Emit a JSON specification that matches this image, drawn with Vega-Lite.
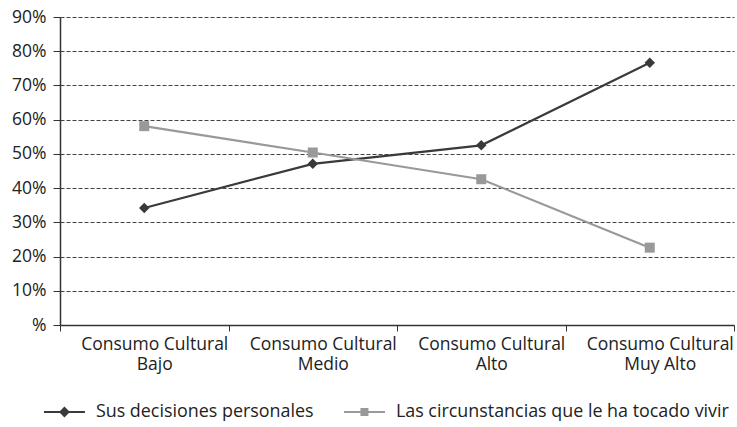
{
  "$schema": "https://vega.github.io/schema/vega-lite/v6.json",
  "autosize": {"type": "none"},
  "width": 674,
  "height": 308,
  "padding": {"left": 60, "top": 17, "right": 3, "bottom": 102},
  "background": "white",
  "config": {
    "view": {"stroke": null},
    "font": "Open Sans",
    "axis": {"labelFont": "Open Sans", "labelColor": "#222222", "labelFontSize": 17.5},
    "legend": {"labelFont": "Open Sans", "labelColor": "#222222", "labelFontSize": 17.9, "labelLimit": 0}
  },
  "data": {
    "values": [
      {"nivel": "Consumo Cultural Bajo", "serie": "Sus decisiones personales", "pct": 34.2},
      {"nivel": "Consumo Cultural Medio", "serie": "Sus decisiones personales", "pct": 47.1},
      {"nivel": "Consumo Cultural Alto", "serie": "Sus decisiones personales", "pct": 52.5},
      {"nivel": "Consumo Cultural Muy Alto", "serie": "Sus decisiones personales", "pct": 76.6},
      {"nivel": "Consumo Cultural Bajo", "serie": "Las circunstancias que le ha tocado vivir", "pct": 58.1},
      {"nivel": "Consumo Cultural Medio", "serie": "Las circunstancias que le ha tocado vivir", "pct": 50.4},
      {"nivel": "Consumo Cultural Alto", "serie": "Las circunstancias que le ha tocado vivir", "pct": 42.6},
      {"nivel": "Consumo Cultural Muy Alto", "serie": "Las circunstancias que le ha tocado vivir", "pct": 22.6}
    ]
  },
  "encoding": {
    "x": {
      "field": "nivel",
      "type": "nominal",
      "sort": null,
      "scale": {"type": "band", "paddingInner": 0, "paddingOuter": 0},
      "axis": {
        "title": null,
        "labelAngle": 0,
        "tickBand": "extent",
        "tickSize": 6,
        "tickColor": "#333333",
        "domainColor": "#333333",
        "domainWidth": 1.5,
        "labelPadding": 4,
        "labelOffset": 10,
        "labelLineHeight": 20,
        "labelLimit": 0,
        "labelExpr": "datum.extra || !datum.label ? '' : ['Consumo Cultural', replace(datum.label, 'Consumo Cultural ', '')]"
      }
    },
    "y": {
      "field": "pct",
      "type": "quantitative",
      "scale": {"domain": [0, 90], "nice": false},
      "axis": {
        "title": null,
        "values": [0, 10, 20, 30, 40, 50, 60, 70, 80, 90],
        "labelExpr": "datum.value == 0 ? '%' : datum.value + '%'",
        "tickSize": 7,
        "tickColor": "#333333",
        "domainColor": "#333333",
        "domainWidth": 1.5,
        "labelPadding": 7,
        "grid": true,
        "gridColor": "#444444",
        "gridDash": [4, 2],
        "gridWidth": 1
      }
    }
  },
  "layer": [
    {
      "transform": [{"filter": "datum.serie == 'Sus decisiones personales'"}],
      "mark": {"type": "line", "strokeWidth": 2.2, "color": "#3a3a3a"},
      "encoding": {}
    },
    {
      "transform": [{"filter": "datum.serie == 'Las circunstancias que le ha tocado vivir'"}],
      "mark": {"type": "line", "strokeWidth": 2.2, "color": "#999999"},
      "encoding": {}
    },
    {
      "transform": [{"filter": "datum.serie == 'Sus decisiones personales'"}],
      "mark": {"type": "point", "shape": "diamond", "filled": true, "opacity": 1, "size": 110, "color": "#3a3a3a"}
    },
    {
      "transform": [{"filter": "datum.serie == 'Las circunstancias que le ha tocado vivir'"}],
      "mark": {"type": "point", "shape": "square", "filled": true, "opacity": 1, "size": 100, "color": "#999999"}
    },
    {
      "mark": {"type": "point", "filled": true, "opacity": 0},
      "encoding": {
        "color": {
          "field": "serie",
          "type": "nominal",
          "scale": {
            "domain": ["Sus decisiones personales", "Las circunstancias que le ha tocado vivir"],
            "range": ["#3a3a3a", "#999999"]
          },
          "legend": {
            "title": null,
            "orient": "none",
            "direction": "horizontal",
            "legendX": -20,
            "legendY": 386,
            "columns": 2,
            "columnPadding": 25,
            "symbolSize": 100,
            "labelOffset": 38,
            "encode": {
              "symbols": {
                "update": {
                  "opacity": {"value": 1},
                  "stroke": {"scale": "color", "field": "value"},
                  "strokeWidth": {"value": 2}
                }
              }
            }
          }
        },
        "shape": {
          "field": "serie",
          "type": "nominal",
          "scale": {
            "domain": ["Sus decisiones personales", "Las circunstancias que le ha tocado vivir"],
            "range": [
              "M-1,0H7.2M3.1,-0.8L3.9,0L3.1,0.8L2.3,0Z",
              "M-1,0H7.2M2.5,-0.6H3.7V0.6H2.5Z"
            ]
          },
          "legend": {"title": null}
        }
      }
    }
  ]
}
